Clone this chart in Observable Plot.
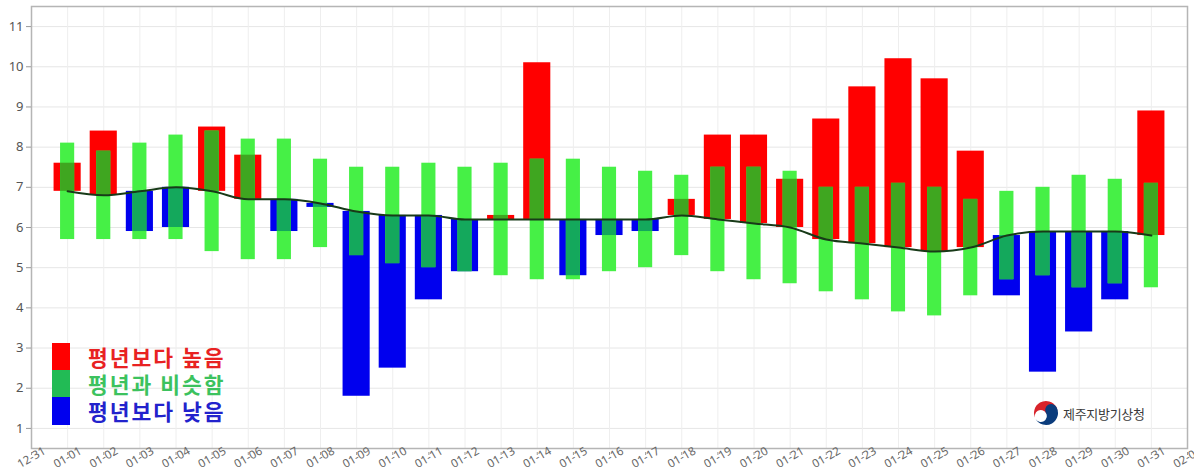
<!DOCTYPE html>
<html>
<head>
<meta charset="utf-8">
<script src="https://cdn.jsdelivr.net/npm/d3@7"></script>
<script src="https://cdn.jsdelivr.net/npm/@observablehq/plot@0.6"></script>
<style>
  html, body { margin: 0; padding: 0; background: #fff; }
  #wrap { position: relative; width: 1194px; height: 474px; font-family: "Noto Sans CJK KR", "Noto Sans", sans-serif; }
  #legend { position: absolute; left: 52px; top: 343px; }
  .row { position: relative; height: 27px; }
  .sw { position: absolute; left: 0; top: 0; width: 18px; height: 27.5px; }
  .lab { position: absolute; left: 36px; top: 1px; font-size: 21.5px; font-weight: bold; line-height: 25px; height: 25px; white-space: nowrap; letter-spacing: 2px; }
  #logo { position: absolute; left: 1033px; top: 400px; display: flex; align-items: center; }
  #logo span { font-size: 13px; color: #3a3a3a; margin-left: 4px; letter-spacing: -0.3px; }
</style>
</head>
<body>
<div id="wrap">
  <div id="chart"></div>
  <div id="legend"></div>
  <div id="logo"></div>
</div>
<script>
// ---- data ----
const days = ["01-01","01-02","01-03","01-04","01-05","01-06","01-07","01-08","01-09","01-10",
              "01-11","01-12","01-13","01-14","01-15","01-16","01-17","01-18","01-19","01-20",
              "01-21","01-22","01-23","01-24","01-25","01-26","01-27","01-28","01-29","01-30","01-31"];
const normal   = [6.9,6.8,6.9,7.0,6.9,6.7,6.7,6.6,6.4,6.3,6.3,6.2,6.2,6.2,6.2,6.2,6.2,6.3,6.2,6.1,6.0,5.7,5.6,5.5,5.4,5.5,5.8,5.9,5.9,5.9,5.8];
const observed = [7.6,8.4,5.9,6.0,8.5,7.8,5.9,6.5,1.8,2.5,4.2,4.9,6.3,10.1,4.8,5.8,5.9,6.7,8.3,8.3,7.2,8.7,9.5,10.2,9.7,7.9,4.3,2.4,3.4,4.2,8.9];
const rangeLow  = [5.7,5.7,5.7,5.7,5.4,5.2,5.2,5.5,5.3,5.1,5.0,4.9,4.8,4.7,4.7,4.9,5.0,5.3,4.9,4.7,4.6,4.4,4.2,3.9,3.8,4.3,4.7,4.8,4.5,4.6,4.5];
const rangeHigh = [8.1,7.9,8.1,8.3,8.4,8.2,8.2,7.7,7.5,7.5,7.6,7.5,7.6,7.7,7.7,7.5,7.4,7.3,7.5,7.5,7.4,7.0,7.0,7.1,7.0,6.7,6.9,7.0,7.3,7.2,7.1];
const yTicks = [1,2,3,4,5,6,7,8,9,10,11];
const legendItems = [
  {label: "평년보다 높음", swatch: "#ff0000", text: "#e82222"},
  {label: "평년과 비슷함", swatch: "#22bb55", text: "#3cc25e"},
  {label: "평년보다 낮음", swatch: "#0000ee", text: "#2222cc"}
];
const logoText = "제주지방기상청";

// ---- build table ----
const year = 2024;
const parse = s => new Date(Date.UTC(year, +s.slice(0,2) - 1, +s.slice(3)));
const DAY = 864e5;
const data = days.map((d, i) => {
  const date = parse(d);
  const n = normal[i], o = observed[i];
  const up = o > n;
  const lo = Math.max(Math.min(n, o), rangeLow[i]);
  const hi = Math.min(Math.max(n, o), rangeHigh[i]);
  return {date, x1: new Date(+date - DAY/2), x2: new Date(+date + DAY/2),
          n, o, gl: rangeLow[i], gh: rangeHigh[i], up, lo, hi};
});
const overlap = data.filter(d => d.hi > d.lo);

const xStart = new Date(Date.UTC(year - 1, 11, 31));
const xEnd = new Date(Date.UTC(year, 1, 1));
const xTicks = d3.utcDay.range(xStart, new Date(+xEnd + 1));

const chart = Plot.plot({
  width: 1194,
  height: 474,
  marginLeft: 31,
  marginRight: 7,
  marginTop: 6,
  marginBottom: 26,
  style: {fontFamily: "'Noto Sans', sans-serif", background: "#fff", overflow: "visible"},
  x: {type: "utc", domain: [xStart, xEnd]},
  y: {domain: [0.5, 11.5]},
  marks: [
    Plot.gridY(yTicks, {stroke: "#e6e6e6", strokeOpacity: 1}),
    Plot.gridX(xTicks, {stroke: "#eeeeee", strokeOpacity: 1}),
    Plot.rect(data, {x1: "x1", x2: "x2", y1: "n", y2: "o", insetLeft: 4.5, insetRight: 4.5,
                     fill: d => d.up ? "#ff0000" : "#0000ee"}),
    Plot.rect(data, {x1: "x1", x2: "x2", y1: "gl", y2: "gh", insetLeft: 11, insetRight: 11, fill: "#46f046"}),
    Plot.rect(overlap, {x1: "x1", x2: "x2", y1: "lo", y2: "hi", insetLeft: 11, insetRight: 11,
                        fill: d => d.up ? "#3fa620" : "#14a85c"}),
    Plot.line(data, {x: "date", y: "n", curve: "monotone-x", stroke: "#183a18", strokeWidth: 2}),
    Plot.frame({stroke: "#b5b5b5", strokeWidth: 1.5}),
    Plot.axisY(yTicks, {tickSize: 5, tickPadding: 3, fontSize: 13, fill: "#555", stroke: "#999"}),
    Plot.axisX(xTicks, {tickFormat: d3.utcFormat("%m-%d"), tickSize: 3, tickPadding: 2, tickRotate: -30,
                        textAnchor: "middle", lineAnchor: "middle", dy: 4, fontSize: 11.5,
                        fill: "#666", stroke: "#999", label: null})
  ]
});
document.getElementById("chart").appendChild(chart);

// ---- legend ----
const leg = document.getElementById("legend");
legendItems.forEach(it => {
  const row = document.createElement("div");
  row.className = "row";
  row.innerHTML = `<div class="sw" style="background:${it.swatch}"></div><div class="lab" style="color:${it.text}">${it.label}</div>`;
  leg.appendChild(row);
});

// ---- logo ----
const r = 12;
document.getElementById("logo").innerHTML =
  `<svg width="26" height="26" viewBox="-13 -13 26 26">
     <g transform="rotate(-30)">
       <circle r="${r}" fill="#fff"/>
       <path d="M ${-r} 0 A ${r} ${r} 0 0 1 ${r} 0 A ${r/2} ${r/2} 0 0 1 0 0 A ${r/2} ${r/2} 0 0 0 ${-r} 0 Z" fill="#d8232a"/>
       <path d="M ${-r} 0 A ${r} ${r} 0 0 0 ${r} 0 A ${r/2} ${r/2} 0 0 0 0 0 A ${r/2} ${r/2} 0 0 1 ${-r} 0 Z" fill="#0b3c7c"/>
     </g>
   </svg><span>${logoText}</span>`;
</script>
</body>
</html>
